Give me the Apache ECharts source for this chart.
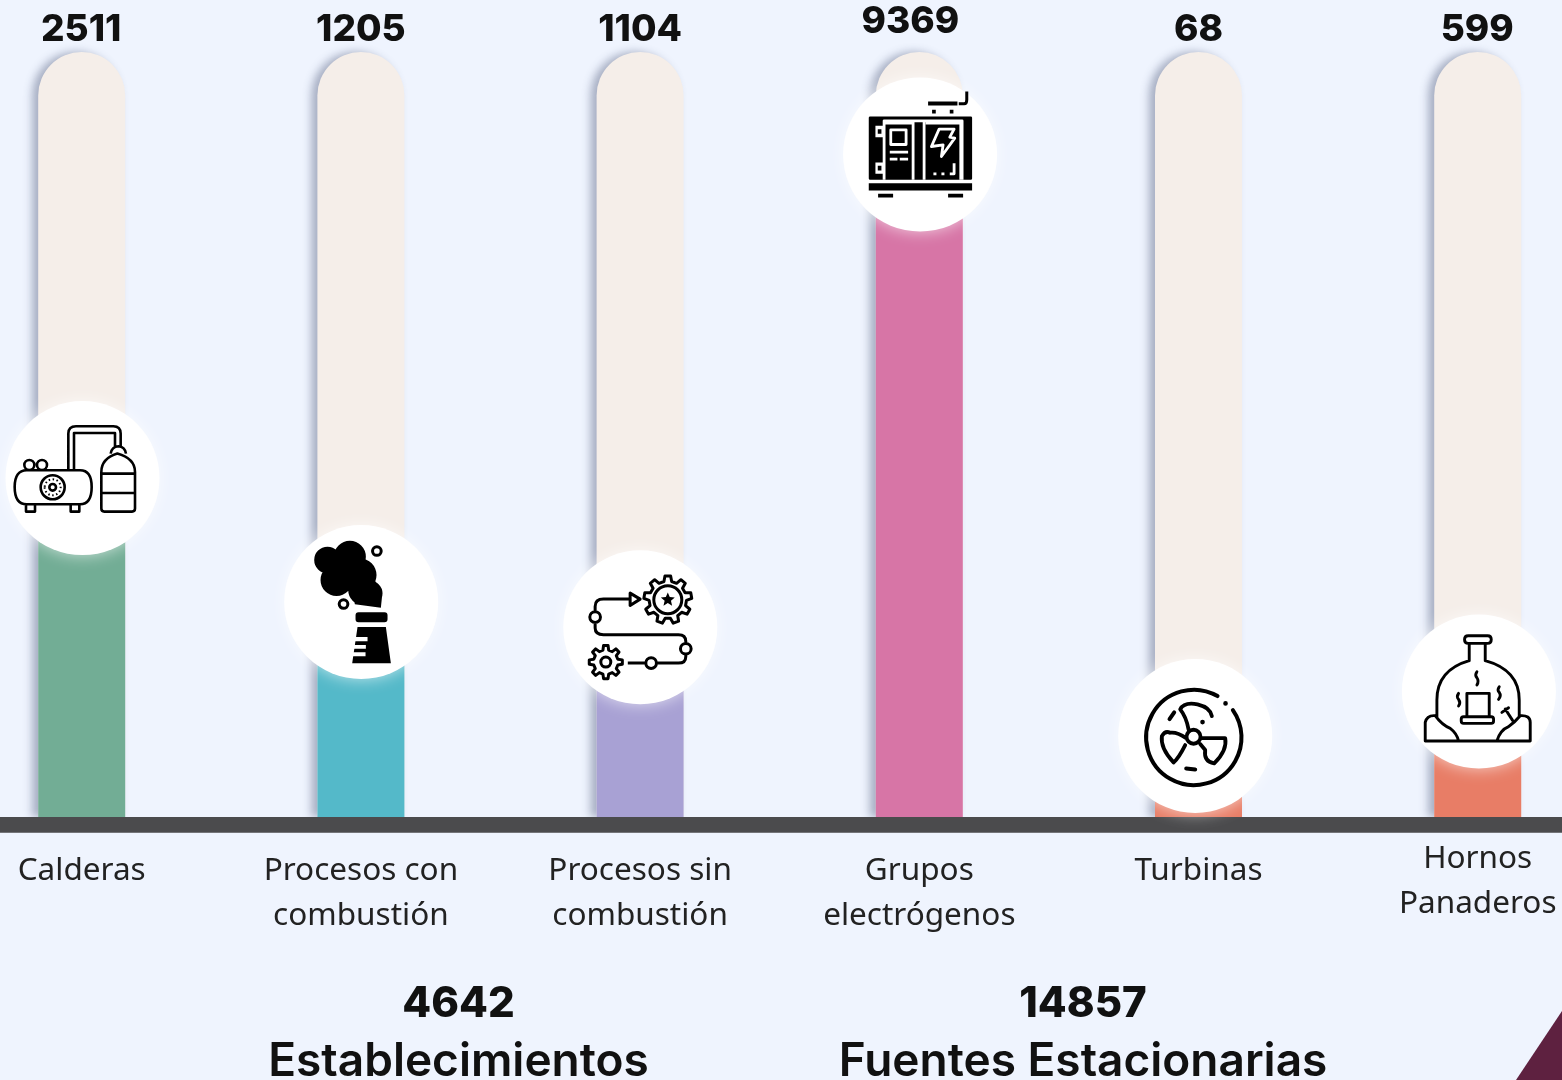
<!DOCTYPE html>
<html><head><meta charset="utf-8">
<style>html,body{margin:0;padding:0;background:#eff4fe;overflow:hidden}#c{width:1562px;height:1080px}</style>
<script src="https://cdn.jsdelivr.net/npm/echarts@6/dist/echarts.min.js"></script>
</head><body><div id="c"></div>
<script>
// ---- data ----
const categories = ['Calderas','Procesos con\ncombustión','Procesos sin\ncombustión','Grupos\nelectrógenos','Turbinas','Hornos\nPanaderos'];
const counts = [2511,1205,1104,9369,68,599];
const fillLevels = [44.3,28.1,24.8,86.6,10.6,16.4];
const trackLevels = [100,100,100,100,100,100];
const fillColors = ['#72ad95','#54b9c9','#a8a1d4','#d775a6','#e87d66','#e87d66'];
const totals = [{value:'4642',label:'Establecimientos'},{value:'14857',label:'Fuentes Estacionarias'}];

// ---- icon helpers: paths are in 3x pixel units, local to each badge ----
const ring=(x,y,r)=>`M${x-r} ${y}A${r} ${r} 0 1 0 ${x+r} ${y}A${r} ${r} 0 1 0 ${x-r} ${y}Z`;
const box=(a,b,c,d)=>`M${a} ${b}H${c}V${d}H${a}Z`;
const rbox=(a,b,c,d,r)=>`M${a+r} ${b}H${c-r}Q${c} ${b} ${c} ${b+r}V${d-r}Q${c} ${d} ${c-r} ${d}H${a+r}Q${a} ${d} ${a} ${d-r}V${b+r}Q${a} ${b} ${a+r} ${b}Z`;
function gear(cx,cy,ro,ri,n){let s='';const st=Math.PI*2/n;for(let i=0;i<n;i++){const t=i*st-Math.PI/2;
  const p=[[t-st*.30,ri],[t-st*.17,ro],[t+st*.17,ro],[t+st*.30,ri]];
  p.forEach((q,j)=>{s+=(i===0&&j===0?'M':'L')+(cx+q[1]*Math.cos(q[0])).toFixed(1)+' '+(cy+q[1]*Math.sin(q[0])).toFixed(1)});}
  return s+'Z';}
function star(cx,cy,ro,ri){let s='';for(let i=0;i<10;i++){const r=i%2?ri:ro,t=i*Math.PI/5-Math.PI/2;s+=(i?'L':'M')+(cx+r*Math.cos(t)).toFixed(1)+' '+(cy+r*Math.sin(t)).toFixed(1);}return s+'Z';}
const K='#000',W='#fff';
const icons=[
 {c:[247.5,263.5],layers:[
  {s:K,w:2.6,d:'M80 240H240Q275 240 275 290Q275 342 240 342H80Q44 342 44 290Q44 240 80 240Z'+box(78,342,105,364)+box(212,342,238,364)+ring(88,224,15)+ring(126,224,15)+ring(158,291,36)+ring(158,291,10)+'M205 240V130Q205 108 228 108H340Q362 108 362 130V170M222 240V128H345V170M304 250V245Q304 205 352 190Q405 205 405 245V355Q405 364 396 364H313Q304 364 304 355V250M304 250H405M304 308H405M332 190Q335 170 355 168Q375 170 378 190'},
  {s:K,w:2,dash:[1.5,2.5],d:ring(158,291,24)}]},
 {c:[259,261],layers:[
  {f:K,d:ring(158,135,40)+ring(225,125,48)+ring(190,170,45)+ring(255,180,50)+ring(185,195,48)+ring(285,235,38)+ring(265,225,45)+'M235 240L240 268L318 278L322 240Z'+rbox(242,292,338,322,9)+'M248 336H333L348 445H232Z'},
  {f:W,d:box(235,366,278,379)+box(232,390,273,401)+box(228,412,272,424)},
  {s:K,w:3,d:ring(306,108,13)+ring(206,267,13)}]},
 {c:[255.5,262.5],layers:[
  {s:K,w:3,d:gear(338,180,72,56,9)+ring(338,180,42)+gear(152,367,50,37,8)+ring(152,367,15)+'M225 178H145Q120 178 120 200V215M225 160L255 178L225 197Z'+ring(120,232,16)+'M120 250V265Q120 285 145 285H370Q392 285 392 305V311'+ring(392,327,16)+'M392 343V350Q392 370 370 370H305'+ring(288,370,16)+'M270 370H218'},
  {f:K,d:star(338,180,22,10)}]},
 {c:[256,344],layers:[
  {f:K,d:rbox(102,230,412,420,4)+box(102,430,412,452)+box(130,462,175,473)+box(340,462,385,473)+box(280,185,368,197)+box(292,210,303,221)+box(345,210,356,221)},
  {s:K,w:3,d:'M372 192H388Q396 192 396 180V155'},
  {s:W,w:2.8,d:'M148 420V243H382V420M235 243V420M268 243V420M378 250V420M273 250H378M152 250H232'+box(168,270,214,314)+'M165 337H220M165 358H188M195 358H220M313 268L358 268L345 292L360 295L320 350L325 315L290 320ZM345 402H358V370'},
  {f:W,d:box(122,258,148,292)+box(122,368,148,402)+box(296,398,305,406)+box(320,398,329,406)},
  {f:K,d:box(129,268,140,282)+box(129,378,140,392)}]},
 {c:[255,257.5],layers:[
  {s:K,w:4,cap:'round',d:'M322 138A143 143 0 1 0 368 180M178 207L192 187M228 355L255 358'},
  {s:K,w:3.8,cap:'round',d:ring(250,260,21)+'M235 238Q228 200 210 178Q222 155 262 163Q300 172 305 198M228 264Q200 245 180 248Q165 240 155 258Q150 295 190 337Q205 325 225 285M272 264H345Q352 300 312 340Q280 335 285 300L270 282'},
  {f:K,d:ring(346,160,7)+ring(277,216,7)}]},
 {c:[261,259.5],layers:[
  {s:K,w:2.9,cap:'round',d:rbox(218,92,298,115,11)+'M232 115V167M280 115V167M135 335V285Q135 195 232 167M280 167Q382 195 382 285V335M100 408H415M100 408V352Q105 330 130 332Q150 360 175 370Q195 385 200 408M315 408Q325 375 350 365Q370 350 385 332Q415 330 415 352V408M225 335V265H292V335'+rbox(208,335,305,355,7)+'M255 200Q248 210 255 218Q262 228 255 240M322 245Q315 255 322 262Q329 272 320 283M200 265Q193 275 200 283Q207 293 200 303M340 312L362 346M330 322L350 308'}]}
];
const badgeNudge=[0.8,0.3,0.2,0.8,-3.3,1.2];
const labelNudge=[[-0.5,0],[0,0],[0,0],[-9,-8],[0,0],[-0.5,0]];

const fontNum='Inter, sans-serif', fontCat='"Noto Sans", sans-serif';
const chart=echarts.init(document.getElementById('c'),null,{renderer:'canvas'});
chart.setOption({
 animation:false,
 backgroundColor:'#eff4fe',
 grid:{left:-57.9,top:52,width:1675.2,height:765,outerBoundsMode:'none',containLabel:false},
 xAxis:{type:'category',data:categories.map((c,i)=>({value:c,textStyle:{padding:[i===5?0:12,0,0,0]}})),
  axisLine:{show:false},axisTick:{show:false},
  axisLabel:{interval:0,margin:20,verticalAlign:'top',lineHeight:45,fontSize:31.5,color:'#222',fontFamily:fontCat}},
 yAxis:{type:'value',min:0,max:100,show:false,splitLine:{show:false}},
 series:[
  {type:'bar',barWidth:87,barGap:'-100%',silent:true,
   data:trackLevels.map((v,i)=>({value:v,label:{offset:labelNudge[i]}})),
   itemStyle:{color:'#f5eee9',borderRadius:[43.5,43.5,0,0],shadowColor:'rgba(80,90,125,.45)',shadowBlur:9,shadowOffsetX:-6},
   label:{show:true,position:'top',distance:4,fontSize:37,fontWeight:800,color:'#111',fontFamily:fontNum,
     formatter:p=>String(counts[p.dataIndex])}},
  {type:'bar',barWidth:87,barGap:'-100%',silent:true,
   data:fillLevels.map((v,i)=>({value:v,itemStyle:{color:fillColors[i]}})),
   itemStyle:{borderRadius:[43.5,43.5,0,0]}},
  {type:'custom',silent:true,clip:false,z:4,data:[[0,0]],
   renderItem:(params,api)=>{const p=api.coord([0,0]);
     return {type:'rect',shape:{x:0,y:p[1],width:1562,height:15.7},style:{fill:'#4b4b4d'}};}},
  {type:'custom',silent:true,clip:false,z:5,data:fillLevels.map((v,i)=>[i,v]),
   renderItem:(params,api)=>{
     const i=api.value(0),pt=api.coord([i,api.value(1)]),ic=icons[i];
     const children=[{type:'circle',shape:{cx:0,cy:0,r:77},style:{fill:'#fff',shadowBlur:16,shadowColor:'rgba(255,255,255,.65)'}}];
     ic.layers.forEach(l=>children.push({type:'path',
       shape:{pathData:'M0 0M600 600'+l.d,x:-ic.c[0]/3,y:-ic.c[1]/3,width:200,height:200,layout:'cover'},
       style:{fill:l.f||'none',stroke:l.s||'none',lineWidth:l.w||0,lineDash:l.dash||null,lineCap:l.cap||'butt',lineJoin:'round'}}));
     return {type:'group',x:pt[0]+badgeNudge[i],y:pt[1],children};
   }}
 ],
 graphic:[
  {type:'polygon',z:0,silent:true,shape:{points:[[1562,1011],[1562,1080],[1516,1080]]},style:{fill:'#5e2140'}},
  ...totals.flatMap((t,i)=>{const x=i?1083:458.5;return [
   {type:'text',x,y:1004,z:10,style:{text:t.value,fontSize:42,fontWeight:800,fontFamily:fontNum,fill:'#111',align:'center',verticalAlign:'middle'}},
   {type:'text',x,y:1062,z:10,style:{text:t.label,fontSize:46,fontWeight:600,fontFamily:fontNum,fill:'#111',align:'center',verticalAlign:'middle'}}];})
 ]
});
</script></body></html>
